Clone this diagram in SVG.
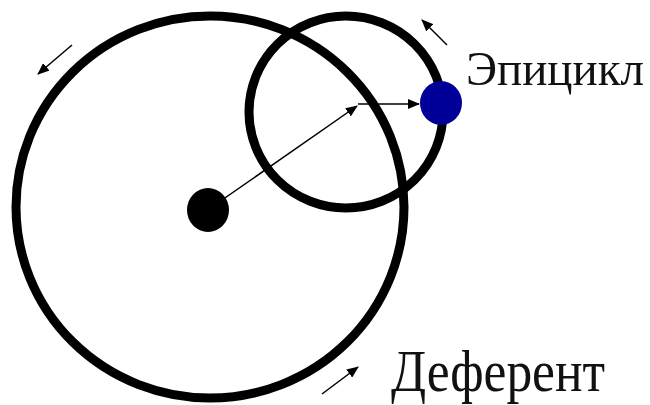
<svg xmlns="http://www.w3.org/2000/svg" width="650" height="405" viewBox="0 0 650 405">
<style>
.orbit{fill:none;stroke:#000;stroke-width:9}
.conn{stroke:#000;stroke-width:1.5;fill:none}
.lbl{font-family:"Liberation Serif","Times New Roman",serif;fill:#111}
</style>
<defs>
<marker id="ah" markerWidth="12" markerHeight="10" refX="11" refY="5" orient="auto" markerUnits="userSpaceOnUse">
<path d="M0,0 L12,5 L0,10 Z" fill="#000"/>
</marker>
</defs>
<rect width="650" height="405" fill="#fff"/>
<g id="deferent"><ellipse class="orbit" cx="210" cy="207" rx="194" ry="191"/></g>
<g id="epicycle"><ellipse class="orbit" cx="346" cy="112" rx="97" ry="96"/></g>
<g id="earth"><ellipse cx="208" cy="210" rx="21" ry="22" fill="#000"/></g>
<g id="planet"><ellipse cx="441" cy="103" rx="21" ry="22" fill="#000099"/></g>
<g id="connectors">
<line class="conn" x1="222" y1="200" x2="357" y2="106" marker-end="url(#ah)"/>
<line class="conn" x1="358" y1="104" x2="419" y2="104" marker-end="url(#ah)"/>
<line class="conn" x1="72" y1="45" x2="38" y2="74" marker-end="url(#ah)"/>
<line class="conn" x1="447" y1="45" x2="422" y2="20" marker-end="url(#ah)"/>
<line class="conn" x1="322" y1="394" x2="358" y2="367" marker-end="url(#ah)"/>
</g>
<g id="labels">
<text class="lbl" x="466" y="85" font-size="49" textLength="178" lengthAdjust="spacingAndGlyphs">Эпицикл</text>
<text class="lbl" transform="translate(391,391) scale(1,1.1)" font-size="54" textLength="214" lengthAdjust="spacingAndGlyphs">Деферент</text>
</g>
</svg>
